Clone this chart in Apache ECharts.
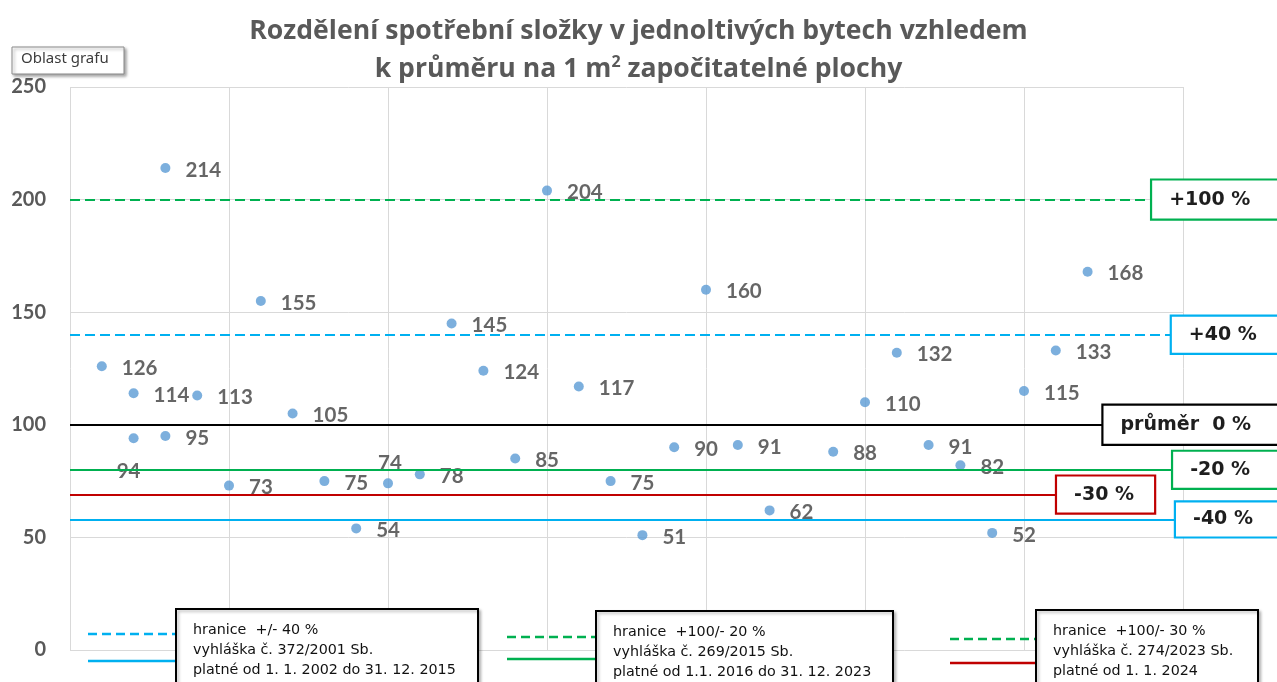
<!DOCTYPE html>
<html>
<head>
<meta charset="utf-8">
<script src="https://cdn.jsdelivr.net/npm/echarts@6/dist/echarts.min.js"></script>
<style>
html,body{margin:0;padding:0;background:#fff;}
#chart{width:1277px;height:682px;}
</style>
</head>
<body>
<div id="chart"></div>
<script>
// ---- data ----
const titleLines = ['Rozdělení spotřební složky v jednoltivých bytech vzhledem', 'k průměru na 1 m', '2', ' započitatelné plochy'];
const xPositions = [1,2,2,3,3,4,5,6,7,8,9,10,11,12,13,14,15,16,17,18,19,20,21,22,24,25,26,27,28,29,30,31,32];
const values     = [126,114,94,214,95,113,73,155,105,75,54,74,78,145,124,85,204,117,75,51,90,160,91,62,88,110,132,91,82,52,115,133,168];
const refValues  = [200, 140, 100, 80, 69, 58];
const refLabels  = ['+100 %', '+40 %', 'průměr  0 %', '-20 %', '-30 %', '-40 %'];
const yTicks     = [0, 50, 100, 150, 200, 250];
const legendTexts = [
  ['hranice  +/- 40 %', 'vyhláška č. 372/2001 Sb.', 'platné od 1. 1. 2002 do 31. 12. 2015'],
  ['hranice  +100/- 20 %', 'vyhláška č. 269/2015 Sb.', 'platné od 1.1. 2016 do 31. 12. 2023'],
  ['hranice  +100/- 30 %', 'vyhláška č. 274/2023 Sb.', 'platné od 1. 1. 2024']
];

// ---- styles ----
const GREEN = '#00B050', BLUE = '#00B0F0', RED = '#C00000', BLACK = '#000000';
const refStyles = [
  {color: GREEN, type: [10, 5], end: 34.03, padR: 40},
  {color: BLUE,  type: [10, 5], end: 34.65, padR: 40},
  {color: BLACK, type: 'solid', end: 32.5,  padR: 40},
  {color: GREEN, type: 'solid', end: 34.69, padR: 40},
  {color: RED,   type: 'solid', end: 31.04, padR: 20},
  {color: BLUE,  type: 'solid', end: 34.78, padR: 40}
];
const refVPad = [8, 7, 8, 7, 7, 6];

const labelPos = {2: {position: 'bottom', distance: 18, offset: [-5, 0]}, 11: {position: 'top', distance: 4, offset: [2, 0]}};

const scatterData = values.map((v, i) => {
  const item = {value: [xPositions[i], v]};
  if (labelPos[i]) item.label = labelPos[i];
  return item;
});

const markData = refValues.map((v, i) => {
  const s = refStyles[i];
  return [
    {coord: [0, v],
     lineStyle: {color: s.color, width: 2, type: s.type},
     label: {
       show: true, position: 'end', distance: 0,
       formatter: refLabels[i],
       fontFamily: 'DejaVu Sans', fontWeight: 'bold', fontSize: 19,
       color: '#1e1e1e', backgroundColor: '#ffffff',
       borderColor: s.color, borderWidth: 2.2,
       padding: [refVPad[i], s.padR, refVPad[i], 17],
       lineHeight: 22
     }},
    {coord: [s.end, v]}
  ];
});

const chart = echarts.init(document.getElementById('chart'), null, {renderer: 'canvas'});

const legendGraphics = [];
const legendBoxes = [
  {x: 176, y: 609, w: 302, lx1: 88, lx2: 176, dashY: 634, solidY: 661, dashColor: BLUE, solidColor: BLUE},
  {x: 596, y: 611, w: 297, lx1: 507, lx2: 596, dashY: 637, solidY: 659, dashColor: GREEN, solidColor: GREEN},
  {x: 1036, y: 610, w: 222, lx1: 950, lx2: 1036, dashY: 639, solidY: 663, dashColor: GREEN, solidColor: RED}
];
legendBoxes.forEach((b, i) => {
  legendGraphics.push({type: 'line', silent: true, z: 100,
    shape: {x1: b.lx1, y1: b.dashY, x2: b.lx2, y2: b.dashY},
    style: {stroke: b.dashColor, lineWidth: 2.5, lineDash: [9, 5]}});
  legendGraphics.push({type: 'line', silent: true, z: 100,
    shape: {x1: b.lx1, y1: b.solidY, x2: b.lx2, y2: b.solidY},
    style: {stroke: b.solidColor, lineWidth: 2.5}});
  legendGraphics.push({type: 'rect', silent: true, z: 101,
    shape: {x: b.x, y: b.y, width: b.w, height: 90},
    style: {fill: '#fff', stroke: '#000', lineWidth: 2,
      shadowBlur: 3, shadowColor: 'rgba(0,0,0,0.25)', shadowOffsetX: 2, shadowOffsetY: 2}});
  legendGraphics.push({type: 'text', silent: true, z: 102,
    left: b.x + 17, top: b.y + 11,
    style: {text: legendTexts[i].join('\n'), fontFamily: 'DejaVu Sans', fontSize: 14.3,
      lineHeight: 20, fill: '#111'}});
});

// "Oblast grafu" tooltip-like box
legendGraphics.push({type: 'rect', silent: true, z: 110,
  shape: {x: 12, y: 47, width: 112, height: 27},
  style: {fill: '#fff', stroke: '#8a8a8a', lineWidth: 1,
    shadowBlur: 3, shadowColor: 'rgba(0,0,0,0.35)', shadowOffsetX: 2, shadowOffsetY: 2}});
legendGraphics.push({type: 'text', silent: true, z: 111,
  left: 21, top: 51,
  style: {text: 'Oblast grafu', fontFamily: 'Noto Sans', fontSize: 15, fill: '#3c3c3c'}});

const option = {
  animation: false,
  backgroundColor: '#ffffff',
  title: {
    left: 'center', top: 7,
    text: titleLines[0] + '\n' + titleLines[1] + '{sup|' + titleLines[2] + '}' + titleLines[3],
    textStyle: {
      fontFamily: 'Open Sans', fontWeight: 'bold', fontSize: 26.6, color: '#595959', lineHeight: 38,
      rich: {sup: {fontFamily: 'Open Sans', fontWeight: 'bold', fontSize: 16, color: '#595959', lineHeight: 16, padding: [0, 0, 14, 0]}}
    }
  },
  grid: {left: 70, right: 94, top: 87, bottom: 32, containLabel: false},
  xAxis: {
    type: 'value', min: 0, max: 35, interval: 5,
    axisLine: {show: false}, axisTick: {show: false}, axisLabel: {show: false},
    splitLine: {show: true, lineStyle: {color: '#D9D9D9', width: 1}}
  },
  yAxis: {
    type: 'value', min: yTicks[0], max: yTicks[yTicks.length - 1], interval: yTicks[1] - yTicks[0],
    axisLine: {show: false}, axisTick: {show: false},
    axisLabel: {fontFamily: 'Lato', fontWeight: 'bold', fontSize: 20, color: '#595959', margin: 24},
    splitLine: {show: true, lineStyle: {color: '#D9D9D9', width: 1}}
  },
  series: [{
    type: 'scatter',
    data: scatterData,
    symbolSize: 10,
    itemStyle: {color: '#5B9BD5'},
    label: {
      show: true, position: 'right', distance: 15, offset: [0, 2],
      formatter: p => String(p.value[1]),
      fontFamily: 'Lato', fontWeight: 'bold', fontSize: 20.5, color: '#404040'
    },
    markLine: {
      silent: true, symbol: ['none', 'none'], animation: false,
      data: markData
    },
    z: 3
  }],
  graphic: legendGraphics
};
chart.setOption(option);
</script>
</body>
</html>
